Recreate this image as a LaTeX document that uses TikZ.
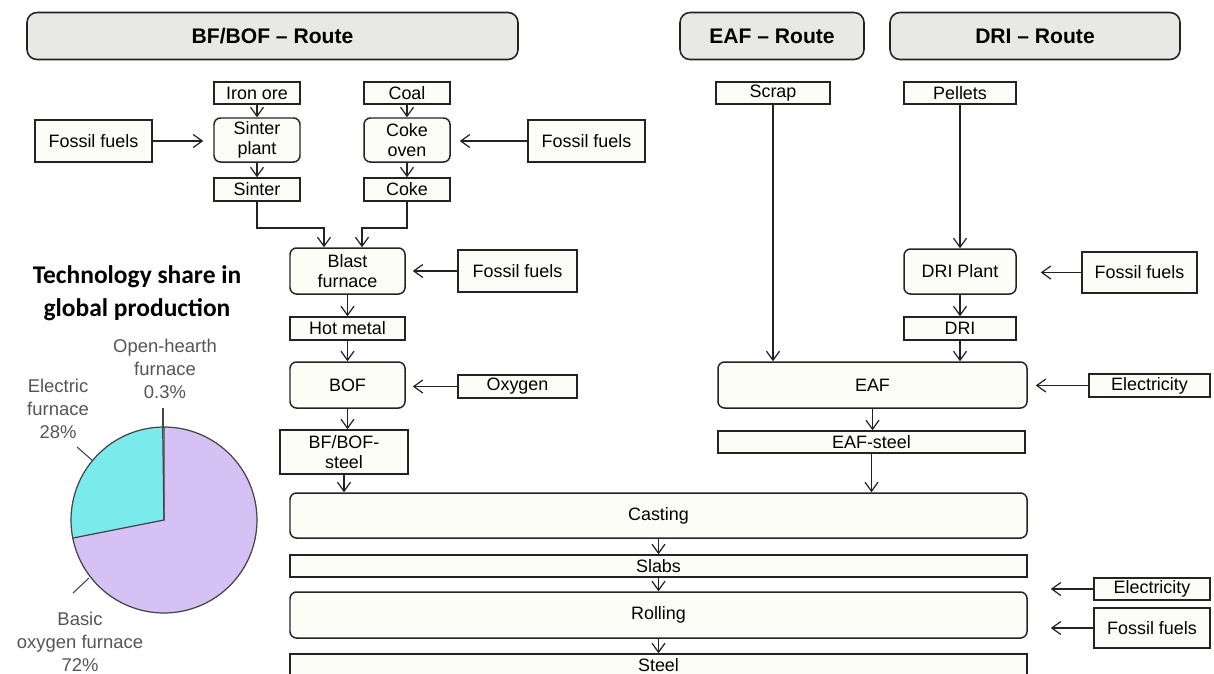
\documentclass[tikz,border=0pt]{standalone}
\usepackage{fontspec}
\setmainfont{Liberation Sans}
\newfontfamily\calib{Carlito}
\usetikzlibrary{arrows.meta,calc}
\definecolor{cream}{RGB}{253,253,247}
\definecolor{hdrgray}{RGB}{232,232,229}
\definecolor{edge}{RGB}{35,35,35}
\definecolor{lav}{RGB}{213,193,244}
\definecolor{cyn}{RGB}{122,234,236}
\definecolor{lbl}{RGB}{85,85,85}
\begin{document}
\begin{tikzpicture}[x=0.02cm,y=-0.02cm,
  base/.style={draw=edge, line width=0.85pt, fill=cream, inner sep=0pt, align=center, font=\fontsize{10.2}{11.5}\selectfont},
  sbox/.style={base},
  rbox/.style={base, rounded corners=0.13cm},
  hdr/.style={draw=edge, line width=0.9pt, fill=hdrgray, rounded corners=0.2cm, inner sep=0pt, font=\fontsize{12}{14}\selectfont\bfseries, minimum height=0.94cm},
  sz/.style 2 args={minimum width=#1*0.02cm, minimum height=#2*0.02cm},
  arr/.style={draw=edge, line width=0.7pt, -{Straight Barb[length=0.18cm,width=0.26cm]}},
  arrgap/.style={shorten >=#1*0.02cm},
  lbltext/.style={text=lbl, align=center, font=\fontsize{10.5}{13}\selectfont},
  leader/.style={draw=lbl!80!black, line width=0.6pt},
]
\useasboundingbox (0,0) rectangle (1214,673);

% headers
\node[hdr, minimum width=491*0.02cm] (h1) at (272.5,36) {BF/BOF -- Route};
\node[hdr, minimum width=184*0.02cm] (h2) at (772,36) {EAF -- Route};
\node[hdr, minimum width=290*0.02cm] (h3) at (1035,36) {DRI -- Route};

% BF/BOF route
\node[sbox, sz={86}{22}] (iron) at (257,93) {Iron ore};
\node[sbox, sz={86}{22}] (coal) at (407,93) {Coal};
\node[sbox, sz={117}{42}] (ff1) at (93.5,141) {Fossil fuels};
\node[rbox, sz={86}{44}] (sp) at (257,140) {Sinter\\plant};
\node[rbox, sz={86}{44}] (co) at (407,140) {Coke\\oven};
\node[sbox, sz={117}{42}] (ff2) at (586.5,141) {Fossil fuels};
\node[sbox, sz={86}{23}] (sinter) at (257,189.5) {Sinter};
\node[sbox, sz={86}{23}] (coke) at (407,189.5) {Coke};
\node[rbox, sz={115}{46}] (bf) at (347.5,271) {Blast\\furnace};
\node[sbox, sz={119}{42}] (ff3) at (517.5,271) {Fossil fuels};
\node[sbox, sz={115}{23}] (hot) at (347.5,328.5) {Hot metal};
\node[rbox, sz={115}{46}] (bof) at (347.5,385) {BOF};
\node[sbox, sz={119}{23}] (oxy) at (517.5,386.5) {Oxygen};
\node[sbox, sz={128}{44}] (bfs) at (344,452) {BF/BOF-\\steel};

% EAF and DRI routes
\node[sbox, sz={114}{22}] (scrap) at (773,93) {Scrap};
\node[sbox, sz={112}{22}] (pel) at (960,93) {Pellets};
\node[rbox, sz={112}{45}] (drip) at (960,271.5) {DRI Plant};
\node[sbox, sz={115}{41}] (ff4) at (1139.5,272.5) {Fossil fuels};
\node[sbox, sz={112}{23}] (dri) at (960,328.5) {DRI};
\node[rbox, sz={309}{46}] (eaf) at (872.5,385) {EAF};
\node[sbox, sz={121}{23}] (el1) at (1149.5,385.5) {Electricity};
\node[sbox, sz={307}{22}] (eafs) at (871.5,442) {EAF-steel};

% common
\node[rbox, sz={737}{45}] (cast) at (658.5,515.5) {Casting};
\node[sbox, sz={737}{22}] (slab) at (658.5,566) {Slabs};
\node[rbox, sz={737}{46}] (roll) at (658.5,615) {Rolling};
\node[sbox, sz={737}{22}] (steel) at (658.5,665) {Steel};
\node[sbox, sz={116}{22}] (el2) at (1152,589) {Electricity};
\node[sbox, sz={116}{40}] (ff5) at (1152,628) {Fossil fuels};

% connectors
\draw[arr] (iron) -- (sp);
\draw[arr] (coal) -- (co);
\draw[arr] (sp) -- (sinter);
\draw[arr] (co) -- (coke);
\draw[arr, arrgap=10] (ff1.east) -- (ff1.east -| sp.west);
\draw[arr, arrgap=9] (ff2.west) -- (ff2.west -| co.east);
\coordinate (m1) at (324,228);
\coordinate (m2) at (362,228);
\draw[arr] (sinter.south) |- (m1) -- (m1 |- bf.north);
\draw[arr] (coke.south) |- (m2) -- (m2 |- bf.north);
\draw[arr, arrgap=7] (ff3.west) -- (ff3.west -| bf.east);
\draw[arr] (bf) -- (hot);
\draw[arr] (hot) -- (bof);
\draw[arr, arrgap=7] (oxy.west) -- (oxy.west -| bof.east);
\draw[arr] (bof.south) -- (bof.south |- bfs.north);
\draw[arr] (bfs.south) -- (bfs.south |- cast.north);

\draw[arr] (scrap.south) -- (scrap.south |- eaf.north);
\draw[arr] (pel) -- (drip);
\draw[arr] (drip) -- (dri);
\draw[arr] (dri.south) -- (dri.south |- eaf.north);
\draw[arr, arrgap=24] (ff4.west) -- (ff4.west -| drip.east);
\draw[arr, arrgap=8] (el1.west) -- (el1.west -| eaf.east);
\draw[arr] (eaf.south) -- (eaf.south |- eafs.north);
\draw[arr] (eafs.south) -- (eafs.south |- cast.north);

\draw[arr] (cast) -- (slab);
\draw[arr] (slab) -- (roll);
\draw[arr] (roll) -- (steel);
\draw[arr, arrgap=23] (el2.west) -- (el2.west -| roll.east);
\draw[arr, arrgap=23] (ff5.west) -- (ff5.west -| roll.east);

% pie chart
\node[align=center, font=\calib\fontsize{14.5}{18.7}\selectfont\bfseries] (title) at (137,293) {Technology share in\\global production};
\begin{scope}[shift={(164,520)}]
  \fill[lav] (0,0) -- (90:1.86cm) arc[start angle=90, end angle=-168.8, radius=1.86cm] -- cycle;
  \fill[cyn] (0,0) -- (191.2:1.86cm) arc[start angle=191.2, end angle=90.6, radius=1.86cm] -- cycle;
  \draw[edge!85, line width=0.7pt] (0,0) circle[radius=1.86cm];
  \draw[edge!85, line width=0.7pt] (191.2:1.86cm) -- (0,0) -- (90:1.86cm);
  \draw[edge!85, line width=0.7pt] (0,0) -- (90.8:1.86cm);
\end{scope}
\node[lbltext] (oh) at (165,369) {Open-hearth\\furnace\\0.3\%};
\node[lbltext] (ef) at (58,409) {Electric\\furnace\\28\%};
\node[lbltext] (bo) at (80,642) {Basic\\oxygen furnace\\72\%};
\coordinate (ohA) at (163,408);
\coordinate (ohB) at (163,428);
\coordinate (efA) at (77,447);
\coordinate (efB) at (93,461);
\coordinate (boA) at (73,593);
\coordinate (boB) at (89,578);
\draw[leader] (ohA) -- (ohB);
\draw[leader] (efA) -- (efB);
\draw[leader] (boA) -- (boB);
\end{tikzpicture}
\end{document}
